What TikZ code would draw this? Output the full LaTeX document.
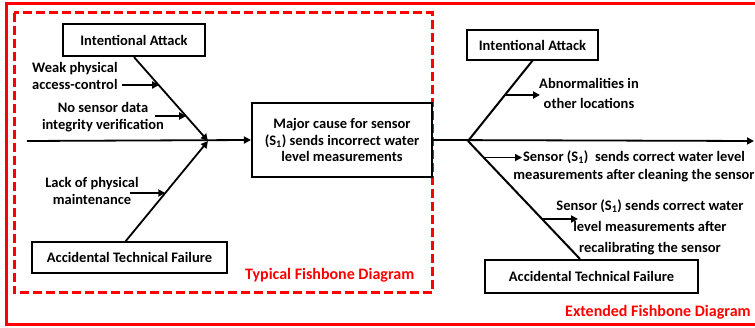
\documentclass[tikz,border=0pt]{standalone}
\usepackage{fontspec}
\setmainfont{Carlito}
\usetikzlibrary{arrows.meta}
\begin{document}
\begin{tikzpicture}[x=1pt,y=-1pt,
  every node/.style={font=\bfseries\fontsize{14.5}{17}\selectfont, inner sep=0pt},
  box/.style={draw, line width=2.2pt, fill=white},
  bone/.style={line width=2pt},
  arr/.style={line width=1.8pt, -{Triangle[length=7pt,width=7pt]}},
  redlbl/.style={text=red, font=\bfseries\fontsize{16}{18}\selectfont},
]
\useasboundingbox (0,0) rectangle (755,328);
% frames
\draw[red, line width=3pt] (760,4) -- (6,4) -- (6,325) -- (760,325);
\draw[red, line width=3pt, dash pattern=on 9pt off 4pt] (14,13) rectangle (432,293);
% boxes
\node[box, minimum width=142pt, minimum height=32pt] (iaL) at (134,40) {Intentional Attack};
\node[box, minimum width=195pt, minimum height=31pt] (atfL) at (129.5,257.5) {Accidental Technical Failure};
\node[box, minimum width=180pt, minimum height=74pt, align=center, font=\bfseries\fontsize{14.5}{16.5}\selectfont] (main) at (342,140)
  {Major cause for sensor\\(S\textsubscript{1}) sends incorrect water\\level measurements};
\node[box, minimum width=131pt, minimum height=30pt] (iaR) at (532.5,45) {Intentional Attack};
\node[box, minimum width=213pt, minimum height=33pt] (atfR) at (591.5,276.5) {Accidental Technical Failure};
% coordinates
\coordinate (sL) at (27,141);
\coordinate (jL) at (208,141);
\coordinate (jR) at (468,141);
\coordinate (eR) at (754,141);
\coordinate (atfLtop) at (125,242);
\coordinate (atfRtop) at (580,259);
\coordinate (iaRbot) at (533,60);
% spine
\draw[arr] (sL) -- (main.west);
\draw[arr] (main.east) -- (eR);
% left branches
\draw[arr] (iaL.south) -- (jL) coordinate[pos=0.34] (b1) coordinate[pos=0.706] (b2);
\draw[arr] (atfLtop) -- (jL) coordinate[pos=0.485] (b3);
% right branches
\draw[bone] (jR) -- (iaRbot) coordinate[pos=0.5625] (b4);
\draw[bone] (jR) -- (atfRtop) coordinate[pos=0.14] (b5) coordinate[pos=0.66] (b6);
% left labels
\node[align=left, anchor=west] (t1) at (32,76) {Weak physical\\access-control};
\node[align=center] (t2) at (103,117.5) {No sensor data\\integrity verification};
\node[align=center] (t3) at (92,190.5) {Lack of physical\\maintenance};
\coordinate (a1) at (122,85);
\coordinate (a2) at (155,116);
\coordinate (a3) at (130,193);
\draw[arr] (a1) -- (a1 -| b1);
\draw[arr] (a2) -- (a2 -| b2);
\draw[arr] (a3) -- (a3 -| b3);
% right labels
\node[align=center, font=\bfseries\fontsize{14.5}{20}\selectfont] (t4) at (589,93) {Abnormalities in\\other locations};
\node[align=center, font=\bfseries\fontsize{14.5}{18}\selectfont] (t5) at (634,166) {Sensor (S\textsubscript{1})\ \ sends correct water level\\measurements after cleaning the sensor};
\node[align=center, font=\bfseries\fontsize{14.5}{21}\selectfont] (t6) at (650,227) {Sensor (S\textsubscript{1}) sends correct water\\level measurements after\\recalibrating the sensor};
\coordinate (a4) at (540,95);
\coordinate (a5) at (522,157);
\coordinate (a6) at (578,219);
\draw[arr] (a4 -| b4) -- (a4);
\draw[arr] (b5) -- (a5 |- b5);
\draw[arr] (a6 -| b6) -- (a6);
% titles
\node[redlbl, anchor=west] (ttl1) at (245,275) {Typical Fishbone Diagram};
\node[redlbl, anchor=west] (ttl2) at (565,312) {Extended Fishbone Diagram};
\end{tikzpicture}
\end{document}
